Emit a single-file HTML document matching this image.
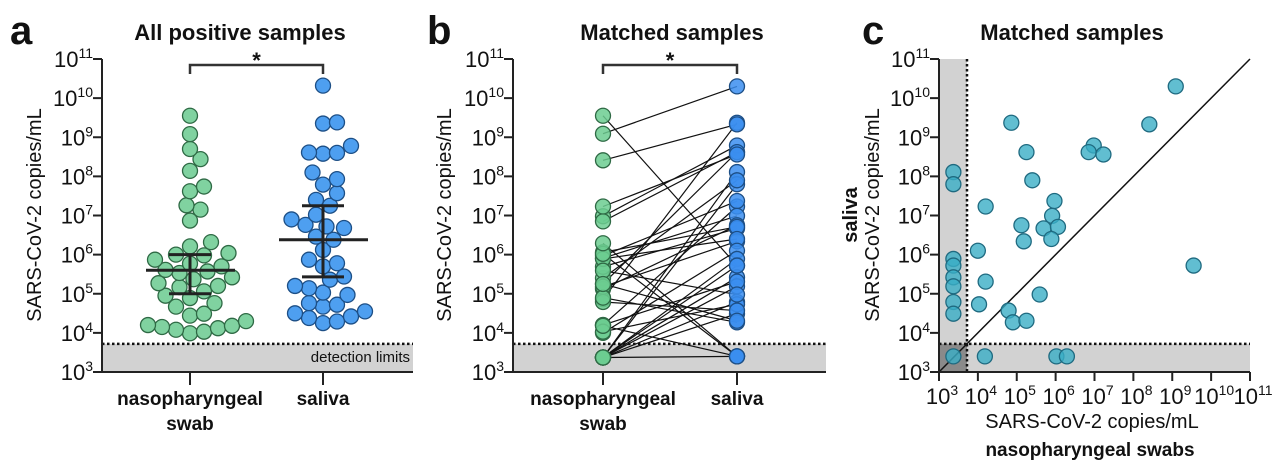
<!DOCTYPE html>
<html><head><meta charset="utf-8"><style>
html,body{margin:0;padding:0;background:#fff;width:1280px;height:465px;overflow:hidden}
svg text{font-family:"Liberation Sans",Arial,sans-serif;fill:#111}
</style></head><body>
<svg id="fig" width="1280" height="465" viewBox="0 0 1280 465" xmlns="http://www.w3.org/2000/svg"></svg>
<script>
// ---- data (log10 copies/mL) ----
const npAll = [9.55,9.08,8.70,8.44,8.14,7.74,7.62,7.26,7.15,6.87,6.32,6.21,6.04,6.0,5.98,5.87,5.77,5.70,5.61,5.57,5.53,5.42,5.37,5.27,5.20,5.17,5.06,4.95,4.89,4.76,4.67,4.49,4.44,4.2,4.18,4.15,4.12,4.08,4.03,3.99,4.3];
const salAll = [10.32,9.38,9.35,8.78,8.61,8.6,8.58,8.1,7.93,7.79,7.57,7.4,7.25,7.02,6.9,6.76,6.72,6.68,6.46,6.38,6.12,5.87,5.78,5.7,5.44,5.36,5.2,5.14,5.03,4.97,4.76,4.72,4.67,4.55,4.5,4.42,4.38,4.29,4.25];
const npStats = [5.6,5.0,6.0];   // median, low, high
const salStats = [6.38,5.43,7.25];
const pairNP  = [9.09,4.86,8.41,5.25,6.98,6.85,7.23,3.37,3.37,5.4,4.2,5.97,5.91,5.12,5.69,6.06,5.18,5.89,4.0,3.37,3.37,3.37,3.37,3.37,3.37,4.2,4.03,9.55,5.59,4.79,4.9,5.25,3.37,4.18,6.02,6.29];
const pairSal = [10.30,9.37,9.33,8.62,8.79,8.62,8.56,8.11,7.8,7.9,7.23,7.37,6.99,6.75,6.67,6.71,6.34,6.40,6.1,5.89,5.72,5.42,5.19,4.79,4.49,5.31,4.73,5.72,4.98,4.57,4.27,4.31,3.4,3.4,3.4,3.4];
const ticks = [3,4,5,6,7,8,9,10,11];
const limitLog = 3.72;

const NS="http://www.w3.org/2000/svg";
const svg=document.getElementById('fig');
function mk(tag,attrs,parent){const e=document.createElementNS(NS,tag);for(const k in attrs)e.setAttribute(k,attrs[k]);(parent||svg).appendChild(e);return e;}
const Y=v=>372-(v-3)*(313/8);
const Xc=v=>939+(v-3)*(311/8);

function txt(x,y,s,size,anchor,bold,name){const t=mk('text',{x:x,y:y,'font-size':size,'text-anchor':anchor||'start','font-weight':bold?'bold':'normal'});t.textContent=s;


return t;}
function pow(x,y,e,anchor,name){const t=mk('text',{x:x,y:y,'font-size':22,'text-anchor':anchor});
const a=document.createElementNS(NS,'tspan');a.textContent='10';t.appendChild(a);const b=document.createElementNS(NS,'tspan');b.setAttribute('font-size',14);b.setAttribute('dy',-9);b.textContent=String(e);t.appendChild(b);return t;}

function yAxis(ax,top,name){
  const g=mk('g',{});
  mk('line',{x1:ax,y1:Y(11),x2:ax,y2:372,stroke:'#222','stroke-width':2},g);
  ticks.forEach(t=>{mk('line',{x1:ax-9,y1:Y(t),x2:ax,y2:Y(t),stroke:'#222','stroke-width':2},g);
    const l=pow(ax-9,Y(t)+8,t,'end','y-tick-label');g.appendChild(l);});
}
function panelBase(ax,right,letter,lx,title,tx,ytitleX,name){
  txt(lx,44,letter,40,'start',true,'panel-letter-'+letter);
  txt(tx,40,title,22,'middle',true,'panel-title-'+letter);
  const r=mk('rect',{x:ax,y:Y(limitLog),width:right-ax,height:372-Y(limitLog),fill:'#d2d2d2'});
  
  mk('line',{x1:ax,y1:Y(limitLog),x2:right,y2:Y(limitLog),stroke:'#111','stroke-width':2.5,'stroke-dasharray':'2.5 2.5'});
  mk('line',{x1:ax,y1:372,x2:right,y2:372,stroke:'#222','stroke-width':2});
  yAxis(ax,59,'y-axis-'+letter);
  const yt=txt(0,0,'SARS-CoV-2 copies/mL',20,'middle',false,'y-axis-title-'+letter);
  yt.setAttribute('transform','translate('+ytitleX+',215) rotate(-90)');
}
function catLabels(c1,c2,letter){
  [c1,c2].forEach(c=>mk('line',{x1:c,y1:372,x2:c,y2:385,stroke:'#222','stroke-width':2}));
  txt(c1,405,'nasopharyngeal',19,'middle',true,'x-label-np-'+letter);
  txt(c1,430,'swab',19,'middle',true,'x-label-swab-'+letter);
  txt(c2,405,'saliva',19,'middle',true,'x-label-saliva-'+letter);
}
function bracket(c1,c2,letter){
  const p=mk('path',{d:`M${c1} 74 V65 H${c2} V74`,fill:'none',stroke:'#333','stroke-width':2.5});
  
  txt((c1+c2)/2,68,'*',22,'middle',true,'significance-star-'+letter);
}
function circle(x,y,fill,stroke,name,op){const c=mk('circle',{cx:x,cy:y,r:7.5,fill:fill,stroke:stroke,'stroke-width':1.3,'fill-opacity':op||1});
return c;}
function swarm(vals,cx,fill,stroke,name){
  const placed=[];const d=15.2;
  [...vals].sort((a,b)=>a-b).forEach(v=>{const y=Y(v);
    for(let k=0;k<40;k++){const off=(k%2?1:-1)*Math.ceil(k/2)*3.5;const x=cx+off;
      if(placed.every(p=>(p[0]-x)**2+(p[1]-y)**2>=d*d*0.85)){placed.push([x,y]);break;}}});
  placed.forEach(p=>circle(p[0],p[1],fill,stroke,name));
}
function stats(s,cx,name){
  const g=mk('g',{stroke:'#222','stroke-width':3});
  mk('line',{x1:cx-44,y1:Y(s[0]),x2:cx+45,y2:Y(s[0])},g);
  mk('line',{x1:cx,y1:Y(s[1]),x2:cx,y2:Y(s[2])},g);
  mk('line',{x1:cx-21,y1:Y(s[1]),x2:cx+21,y2:Y(s[1])},g);
  mk('line',{x1:cx-21,y1:Y(s[2]),x2:cx+21,y2:Y(s[2])},g);
}

// Panel a
panelBase(102,413,'a',10,'All positive samples',240,41,'a');
txt(410,362,'detection limits',15,'end',false,'detection-limits-label');
catLabels(190,323,'a');bracket(190,323,'a');
swarm(npAll,190,'#80d2a0','#2f6a45','np-point');
swarm(salAll,323,'#4e9ff0','#1d4f86','saliva-point');
stats(npStats,190,'np-median-iqr');stats(salStats,323,'saliva-median-iqr');

// Panel b
panelBase(513,826,'b',427,'Matched samples',672,451,'b');
catLabels(603,737,'b');bracket(603,737,'b');
pairNP.forEach((v,i)=>{const l=mk('line',{x1:603,y1:Y(v),x2:737,y2:Y(pairSal[i]),stroke:'#111','stroke-width':1.2});
});
pairNP.forEach(v=>circle(603,Y(v),'#6ccc90','#2f6a45','paired-np-point',0.85));
pairSal.forEach(v=>circle(737,Y(v),'#3b8ef0','#1d4f86','paired-saliva-point',0.85));

// Panel c
txt(862,44,'c',40,'start',true,'panel-letter-c');
txt(1072,40,'Matched samples',22,'middle',true,'panel-title-c');
const lx=Xc(limitLog), ly=Y(limitLog);
mk('rect',{x:939,y:59,width:lx-939,height:313,fill:'#d2d2d2'});
mk('rect',{x:939,y:ly,width:1250-939,height:372-ly,fill:'#d2d2d2'});
mk('rect',{x:939,y:ly,width:lx-939,height:372-ly,fill:'#8a8a8a'});
mk('line',{x1:lx,y1:59,x2:lx,y2:372,stroke:'#111','stroke-width':2.5,'stroke-dasharray':'2.5 2.5'});
mk('line',{x1:939,y1:ly,x2:1250,y2:ly,stroke:'#111','stroke-width':2.5,'stroke-dasharray':'2.5 2.5'});
mk('line',{x1:Xc(3),y1:Y(3),x2:Xc(11),y2:Y(11),stroke:'#111','stroke-width':1.5});
yAxis(939,59,'y-axis-c');
mk('line',{x1:939,y1:372,x2:1250,y2:372,stroke:'#222','stroke-width':2});
ticks.forEach(t=>{mk('line',{x1:Xc(t),y1:372,x2:Xc(t),y2:381,stroke:'#222','stroke-width':2});pow(Xc(t)+3,404,t,'middle','x-tick-label');});
txt(1092,428,'SARS-CoV-2 copies/mL',20,'middle',false,'x-axis-title-c');
txt(1090,456,'nasopharyngeal swabs',19,'middle',true,'x-axis-title-c-bold');
let t1=txt(0,0,'saliva',20,'middle',true,'y-axis-title-c-bold');t1.setAttribute('transform','translate(857,215) rotate(-90)');
let t2=txt(0,0,'SARS-CoV-2 copies/mL',20,'middle',false,'y-axis-title-c');t2.setAttribute('transform','translate(879,215) rotate(-90)');
pairNP.forEach((v,i)=>circle(Xc(v),Y(pairSal[i]),'#3aaec6','#1f6a80','scatter-point',0.8));
</script>
</body></html>
